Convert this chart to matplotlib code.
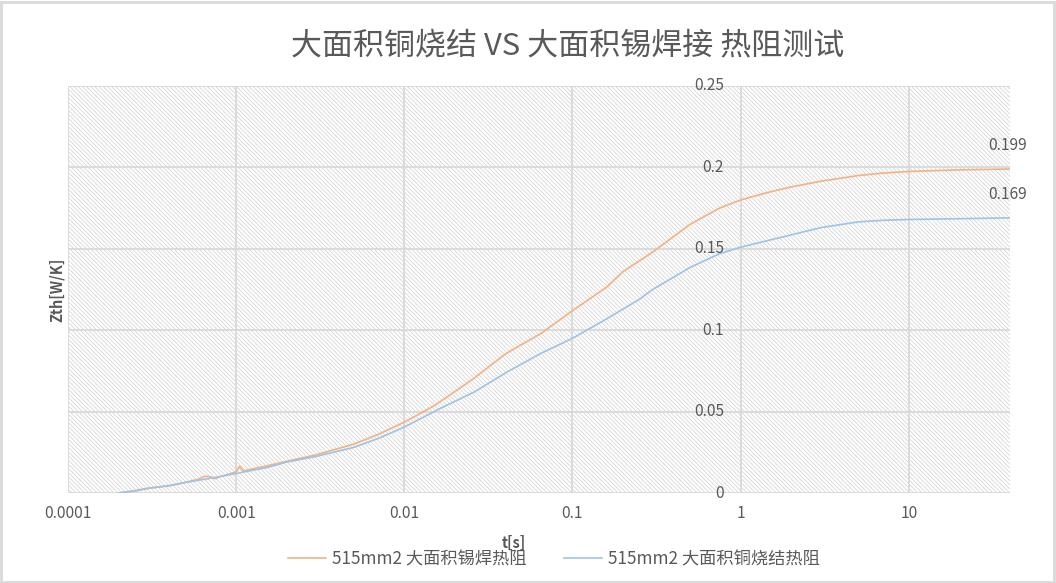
import matplotlib
matplotlib.use("Agg")
import matplotlib.pyplot as plt
from matplotlib.patches import Rectangle

plt.rcParams['font.family'] = ['Noto Sans CJK SC', 'DejaVu Sans']
plt.rcParams['hatch.linewidth'] = 0.5
plt.rcParams['hatch.color'] = '#cfcfcf'

title = "大面积铜烧结 VS 大面积锡焊接 热阻测试"
label_solder = "515mm2 大面积锡焊热阻"
label_sinter = "515mm2 大面积铜烧结热阻"

# orange: tin solder
t_solder = [0.0002, 0.00025, 0.0003, 0.0004, 0.0005, 0.0006, 0.00065, 0.0007, 0.00075,
            0.0008, 0.0009, 0.001, 0.00105, 0.0011, 0.0015, 0.002, 0.003, 0.005, 0.007,
            0.01, 0.015, 0.02, 0.026, 0.04, 0.065, 0.1, 0.16, 0.2, 0.3, 0.5, 0.75,
            1, 1.5, 2, 3, 5, 7, 10, 20, 40]
z_solder = [0.0, 0.0015, 0.003, 0.0045, 0.0065, 0.0085, 0.0103, 0.0100, 0.0088,
            0.0100, 0.0115, 0.0130, 0.0165, 0.0135, 0.0165, 0.0195, 0.0235, 0.0300, 0.0360,
            0.0435, 0.0535, 0.0623, 0.0705, 0.0855, 0.0980, 0.1120, 0.1265, 0.1360, 0.1480,
            0.1650, 0.1750, 0.1800, 0.1850, 0.1880, 0.1915, 0.1950, 0.1965, 0.1975, 0.1985, 0.1990]

# blue: copper sinter
t_sinter = [0.0002, 0.00025, 0.0003, 0.0004, 0.0005, 0.0007, 0.001, 0.0015, 0.002,
            0.003, 0.005, 0.007, 0.01, 0.0164, 0.026, 0.041, 0.065, 0.1, 0.16,
            0.25, 0.3, 0.5, 0.75, 1, 1.9, 3, 5, 7, 10, 20, 40]
z_sinter = [0.0, 0.0012, 0.0028, 0.0045, 0.0065, 0.0090, 0.0120, 0.0155, 0.0190,
            0.0225, 0.0280, 0.0335, 0.0405, 0.0520, 0.0620, 0.0744, 0.0858, 0.0950, 0.1070,
            0.1190, 0.1250, 0.1385, 0.1470, 0.1510, 0.1580, 0.1630, 0.1665, 0.1675,
            0.1680, 0.1685, 0.1690]

x_ticks = [0.0001, 0.001, 0.01, 0.1, 1, 10]
x_ticklabels = ["0.0001", "0.001", "0.01", "0.1", "1", "10"]
y_ticks = [0, 0.05, 0.1, 0.15, 0.2, 0.25]
y_ticklabels = ["0", "0.05", "0.1", "0.15", "0.2", "0.25"]

grey = '#595959'
orange = '#F4B183'
blue = '#9DC3E6'

fig = plt.figure(figsize=(10.56, 5.83), dpi=100)
fig.patches.append(Rectangle((0.001, 0.002), 0.997, 0.994, transform=fig.transFigure,
                             fill=False, edgecolor='#d9d9d9', linewidth=2))
ax = fig.add_axes([68/1056, 1-493/583, 942/1056, 407/583])
ax.set_xscale('log')
ax.set_xlim(0.0001, 40)
ax.set_ylim(0, 0.25)

# hatched plot area
ax.add_patch(Rectangle((0, 0), 1, 1, transform=ax.transAxes, facecolor='white',
                       hatch='\\' * 8, edgecolor='#cfcfcf', linewidth=0, zorder=0))

for v in x_ticks:
    ax.axvline(v, color='#d9d9d9', linewidth=1.3, zorder=1)
for v in y_ticks:
    ax.axhline(v, color='#d9d9d9', linewidth=1.3, zorder=1)

for s in ax.spines.values():
    s.set_visible(False)
ax.tick_params(length=0)
ax.set_xticks(x_ticks)
ax.set_xticklabels(x_ticklabels, color=grey, fontsize=11.2)
ax.minorticks_off()
ax.tick_params(axis='x', pad=9)
ax.set_yticks([])

# y labels sit on the x=1 crossing
for v, lab in zip(y_ticks, y_ticklabels):
    ax.annotate(lab, xy=(1, v), xytext=(-12, 0), textcoords='offset points',
                ha='right', va='center', color=grey, fontsize=11.2, zorder=5)

l1, = ax.plot(t_solder, z_solder, color=orange, linewidth=1.2, zorder=3, label=label_solder)
l2, = ax.plot(t_sinter, z_sinter, color=blue, linewidth=1.2, zorder=3, label=label_sinter)

ax.annotate("0.199", xy=(t_solder[-1], z_solder[-1]), xytext=(-2, 17), textcoords='offset points',
            ha='center', va='center', color=grey, fontsize=11.2)
ax.annotate("0.169", xy=(t_sinter[-1], z_sinter[-1]), xytext=(-2, 17), textcoords='offset points',
            ha='center', va='center', color=grey, fontsize=11.2)

fig.text(568/1056, 1-46/583, title, ha='center', va='center', color=grey, fontsize=22.3)
fig.text(514/1056, 1-543/583, "t[s]", ha='center', va='center', color=grey,
         fontsize=10.5, fontweight='bold')
fig.text(57/1056, 1-290/583, "Zth[W/K]", ha='center', va='center', color=grey,
         fontsize=10.5, fontweight='bold', rotation=90)

leg = fig.legend(handles=[l1, l2], loc='center', bbox_to_anchor=(554/1056, 1-559/583),
                 ncol=2, frameon=False, fontsize=12.4, handlelength=2.2,
                 handletextpad=0.35, columnspacing=2.2)
for txt in leg.get_texts():
    txt.set_color(grey)

fig.savefig("out.png", dpi=100)
